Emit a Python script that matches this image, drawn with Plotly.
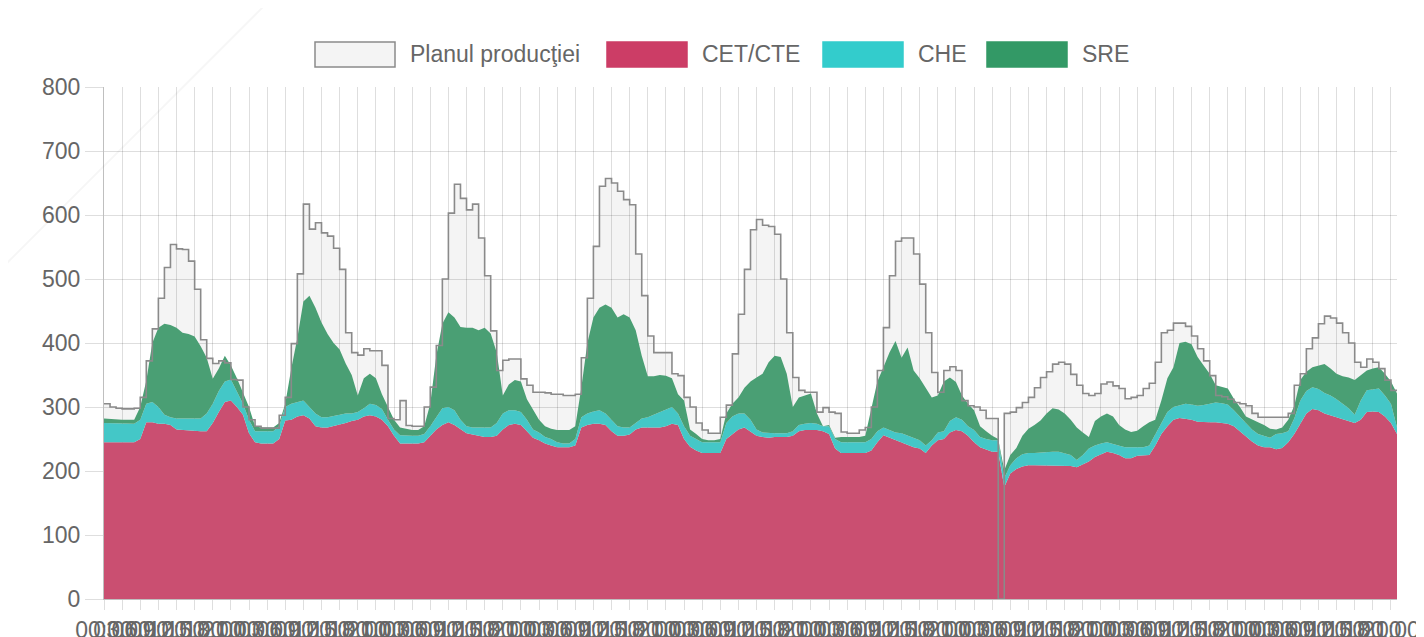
import numpy as np
import plotly.graph_objects as go

# hourly values, 9 days (last one ends at 22:00)
plan = [
    305, 300, 298, 297, 297, 298, 315, 372, 422, 470, 518, 554, 547, 546, 528, 484, 405, 376, 368, 372, 369, 343, 342, 300,
    280, 270, 267, 267, 267, 287, 315, 399, 508, 617, 578, 588, 572, 567, 548, 515, 416, 385, 381, 391, 388, 388, 365, 282,
    280, 310, 271, 270, 270, 300, 331, 396, 500, 603, 648, 626, 608, 617, 564, 505, 419, 357, 373, 375, 375, 344, 334, 323,
    323, 322, 320, 320, 318, 318, 320, 377, 470, 551, 645, 657, 650, 637, 624, 616, 539, 474, 411, 385, 385, 385, 352, 349,
    315, 300, 275, 264, 259, 259, 284, 303, 383, 445, 515, 577, 593, 584, 582, 570, 500, 416, 346, 326, 323, 323, 292, 299,
    292, 290, 261, 259, 259, 264, 268, 300, 357, 424, 505, 559, 564, 564, 539, 492, 416, 354, 323, 357, 363, 357, 310, 302,
    300, 295, 282, 282, 0, 290, 292, 299, 307, 315, 330, 346, 355, 367, 370, 367, 351, 334, 321, 318, 321, 336, 339, 333,
    329, 313, 315, 318, 329, 337, 370, 416, 420, 431, 431, 426, 411, 391, 372, 349, 318, 316, 312, 307, 305, 302, 290, 284,
    284, 284, 284, 284, 290, 334, 352, 391, 408, 430, 442, 439, 431, 416, 400, 370, 362, 375, 370, 360, 342, 326, 326,
]

cet = [
    245, 245, 245, 245, 245, 245, 250, 276, 276, 274, 274, 272, 265, 264, 264, 263, 262, 262, 275, 292, 308, 310, 300, 288,
    259, 245, 243, 243, 243, 250, 279, 280, 285, 287, 282, 270, 268, 268, 270, 272, 275, 278, 280, 285, 287, 285, 280, 270,
    255, 243, 243, 243, 243, 245, 255, 265, 272, 276, 272, 265, 259, 257, 255, 253, 253, 255, 265, 272, 274, 272, 262, 252,
    248, 243, 240, 237, 237, 237, 240, 268, 272, 274, 274, 272, 262, 255, 255, 257, 265, 268, 268, 268, 268, 270, 274, 272,
    250, 238, 232, 228, 228, 228, 228, 250, 258, 265, 268, 262, 255, 253, 252, 253, 253, 253, 255, 262, 264, 264, 264, 262,
    258, 235, 228, 228, 228, 228, 228, 232, 245, 256, 252, 248, 245, 240, 237, 235, 228, 240, 248, 250, 260, 264, 262, 255,
    245, 237, 233, 230, 230, 175, 196, 203, 207, 209, 209, 209, 209, 209, 209, 209, 208, 206, 210, 215, 222, 226, 230, 228,
    225, 220, 220, 224, 225, 225, 240, 258, 270, 280, 283, 282, 280, 277, 276, 276, 276, 275, 274, 270, 262, 255, 246, 240,
    237, 237, 234, 236, 245, 258, 275, 290, 297, 295, 290, 287, 285, 282, 278, 275, 280, 292, 293, 292, 285, 275, 258,
]

# top of the CHE band (CET + CHE)
che_level = [
    275, 275, 275, 274, 274, 274, 280, 305, 308, 300, 288, 284, 282, 282, 282, 282, 282, 290, 305, 325, 340, 343, 325, 305,
    280, 262, 262, 262, 262, 270, 300, 305, 308, 310, 300, 290, 284, 284, 286, 288, 290, 290, 292, 298, 305, 303, 297, 280,
    265, 256, 255, 255, 255, 258, 270, 285, 298, 300, 295, 280, 270, 268, 268, 268, 268, 275, 290, 295, 295, 292, 280, 265,
    260, 253, 250, 245, 243, 243, 250, 284, 290, 293, 295, 290, 280, 270, 268, 268, 275, 282, 284, 288, 292, 295, 300, 290,
    270, 255, 250, 245, 245, 245, 245, 275, 285, 290, 290, 280, 265, 260, 259, 259, 259, 259, 262, 272, 274, 275, 274, 270,
    270, 250, 245, 245, 245, 245, 245, 250, 262, 268, 264, 260, 259, 255, 252, 248, 240, 248, 260, 262, 278, 284, 280, 270,
    264, 253, 250, 248, 248, 189, 209, 220, 226, 228, 228, 229, 230, 230, 230, 228, 225, 217, 225, 235, 240, 243, 245, 242,
    240, 237, 237, 237, 237, 240, 258, 275, 292, 300, 303, 305, 304, 302, 303, 305, 307, 306, 304, 295, 285, 275, 265, 258,
    255, 252, 258, 259, 262, 282, 310, 325, 331, 328, 322, 318, 312, 305, 298, 288, 310, 326, 328, 329, 318, 305, 268,
]

# top of the SRE band (CET + CHE + SRE)
sre_level = [
    282, 281, 280, 280, 280, 280, 300, 341, 400, 424, 430, 428, 424, 416, 414, 410, 395, 377, 344, 360, 380, 365, 345, 321,
    300, 270, 268, 268, 268, 275, 305, 360, 408, 465, 474, 455, 432, 414, 400, 390, 368, 350, 318, 345, 352, 345, 320, 300,
    280, 268, 266, 264, 264, 270, 305, 380, 430, 448, 440, 425, 424, 424, 420, 424, 415, 385, 318, 335, 342, 340, 312, 295,
    280, 270, 266, 264, 264, 264, 270, 330, 400, 440, 455, 460, 455, 440, 445, 440, 420, 380, 348, 348, 350, 349, 345, 320,
    310, 265, 258, 250, 248, 248, 250, 290, 305, 315, 330, 340, 346, 352, 370, 380, 378, 352, 300, 315, 318, 321, 290, 270,
    272, 252, 253, 253, 253, 253, 255, 300, 340, 362, 385, 403, 377, 393, 357, 345, 330, 315, 318, 340, 346, 339, 318, 305,
    295, 270, 262, 255, 250, 201, 225, 236, 255, 266, 272, 279, 290, 298, 296, 290, 280, 268, 260, 253, 278, 285, 290, 285,
    272, 265, 261, 263, 270, 276, 280, 310, 345, 362, 400, 402, 398, 378, 365, 352, 334, 332, 329, 313, 300, 285, 280, 276,
    272, 266, 265, 268, 280, 302, 342, 355, 362, 365, 367, 360, 352, 348, 346, 342, 350, 357, 360, 362, 352, 340, 321,
]

hours = list(range(len(plan)))
hour_labels = [f"{h % 24:02d}:00" for h in hours]
tick_hours = hours[::3]

che = np.subtract(che_level, cet)
sre = np.subtract(sre_level, che_level)

GRID = "rgba(0,0,0,0.13)"
TXT = "#666666"
FONT = "Liberation Sans, Arial, sans-serif"

fig = go.Figure()

# plan fill behind everything
fig.add_trace(go.Scatter(x=hours, y=plan, mode="lines", line=dict(shape="hv", width=0),
                         fill="tozeroy", fillcolor="rgba(0,0,0,0.045)", showlegend=False, hoverinfo="skip"))

fig.add_trace(go.Scatter(x=hours, y=cet, name="CET/CTE", stackgroup="one", mode="lines",
                         line=dict(width=0, color="#ca4f71"), fillcolor="#ca4f71"))
fig.add_trace(go.Scatter(x=hours, y=che, name="CHE", stackgroup="one", mode="lines",
                         line=dict(width=0, color="#44c7c7"), fillcolor="#44c7c7"))
fig.add_trace(go.Scatter(x=hours, y=sre, name="SRE", stackgroup="one", mode="lines",
                         line=dict(width=0, color="#4a9f74"), fillcolor="#4a9f74"))

# plan outline on top
fig.add_trace(go.Scatter(x=hours, y=plan, name="Planul producţiei", mode="lines",
                         line=dict(shape="hv", width=1.6, color="#8a8a8a")))

# the page body adds an 8px margin, so the figure sits 8px right/down in the window
OFF = 8
W, H = 1424, 637
L, T = 104 - OFF, 87 - OFF
R, B = W - (1397 - OFF), H - (599 - OFF)
PW, PH = W - L - R, H - T - B


def px(x):
    # window pixel x -> paper
    return (x - OFF - L) / PW


def py(y):
    # window pixel y -> paper
    return (H - B - (y - OFF)) / PH


# hand-drawn legend, chart.js style boxes
legend_items = [
    ("Planul producţiei", 315, "rgba(0,0,0,0.045)", "#8a8a8a"),
    ("CET/CTE", 607, "#cc3d66", "#cc3d66"),
    ("CHE", 823, "#33cccc", "#33cccc"),
    ("SRE", 987, "#339966", "#339966"),
]
for label, x0, fc, lc in legend_items:
    fig.add_shape(type="rect", xref="paper", yref="paper",
                  x0=px(x0), x1=px(x0 + 80), y0=py(67), y1=py(42),
                  fillcolor=fc, line=dict(color=lc, width=1.5))
    fig.add_annotation(xref="paper", yref="paper", x=px(x0 + 93), y=py(54),
                       text=label, showarrow=False, xanchor="left", yanchor="middle",
                       font=dict(size=23, color=TXT, family=FONT))

# faint diagonal stroke in the page background
fig.add_shape(type="line", xref="paper", yref="paper", layer="below",
              x0=px(5), y0=py(265), x1=px(265), y1=py(5),
              line=dict(color="rgba(0,0,0,0.035)", width=2))

fig.update_layout(
    width=W, height=H,
    margin=dict(l=L, r=R, t=T, b=B),
    plot_bgcolor="white", paper_bgcolor="white",
    showlegend=False,
    font=dict(family=FONT, color=TXT),
)
fig.update_xaxes(range=[0, hours[-1]], tickmode="array", tickvals=tick_hours,
                 ticktext=[hour_labels[h] for h in tick_hours], tickangle=0,
                 showgrid=True, gridcolor=GRID, gridwidth=1, zeroline=False,
                 ticks="outside", ticklen=10, tickcolor=GRID,
                 showline=True, linecolor="rgba(0,0,0,0.25)",
                 tickfont=dict(size=23, color=TXT), automargin=False)
fig.update_yaxes(range=[0, 800], dtick=100, showgrid=True, gridcolor=GRID, zeroline=False,
                 ticks="outside", ticklen=18, tickcolor=GRID,
                 showline=True, linecolor="rgba(0,0,0,0.25)",
                 tickfont=dict(size=23, color=TXT), automargin=False)

fig.write_html("out.html")
